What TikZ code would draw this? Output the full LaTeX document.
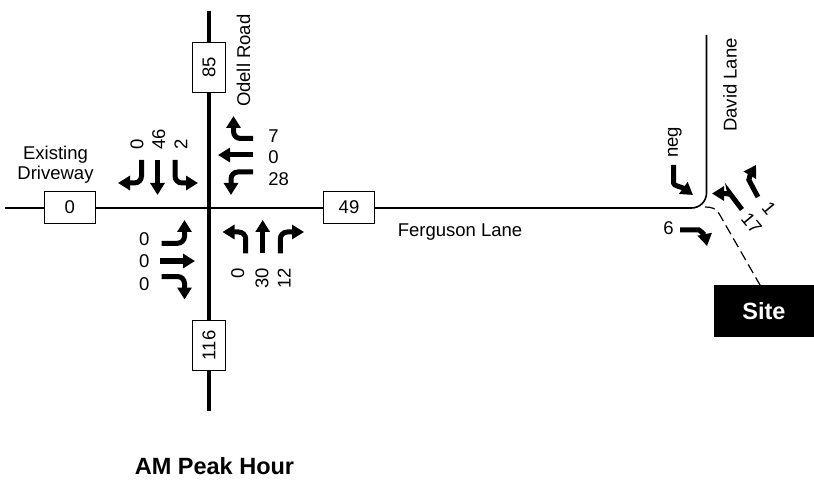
\documentclass[tikz,border=0pt]{standalone}
\usepackage{fontspec}
\setmainfont{Liberation Sans}
\usetikzlibrary{arrows.meta}
\begin{document}
\begin{tikzpicture}[x=1pt,y=-1pt,
  lbl/.style={font=\fontsize{18.5}{21}\selectfont, inner sep=0pt, outer sep=0pt},
  hbox/.style={draw, line width=0.9pt, fill=white, inner sep=0pt, minimum width=51pt, minimum height=32pt, font=\fontsize{18.5}{21}\selectfont},
  vbox/.style={hbox, minimum width=50.5pt, minimum height=33pt, rotate=90},
  mv/.style={line width=5pt, -{Triangle[length=12pt,width=14pt]}, rounded corners=7pt},
  road/.style={line width=1.6pt},
  mainroad/.style={line width=3.3pt},
  bold/.style={font=\bfseries\fontsize{23.5}{28}\selectfont, inner sep=0pt}
]
\useasboundingbox (0,0) rectangle (814,481);

% roads
\coordinate (ferW) at (5,208);
\coordinate (ferE) at (706.5,208);
\coordinate (davN) at (706.5,35);
\coordinate (odN) at (209,11);
\coordinate (odS) at (209,410.5);
\draw[road, rounded corners=15pt] (ferW) -- (ferE) -- (davN);
\draw[mainroad] (odN) -- (odS);

% site driveway
\node[fill=black, minimum width=100pt, minimum height=52pt, inner sep=0pt, text=white, bold] (site) at (764,311) {Site};
\coordinate (drvS) at (760,285);
\coordinate (drvN) at (705,207);
\draw[line width=1.2pt, dash pattern=on 10pt off 5pt] (drvN) .. controls (712,207) and (716,208.5) .. (719,213.5) -- (drvS);

% volume boxes
\node[hbox] (b0) at (69.7,207) {0};
\node[hbox] (b49) at (349,207.5) {49};
\node[vbox] (b85) at (209,67.7) {85};
\node[vbox] (b116) at (209,345.3) {116};

% road names
\node[lbl, anchor=base] (exist) at (55.5,159.5) {Existing};
\node[lbl, anchor=base] (drive) at (55.5,179.5) {Driveway};
\node[lbl, anchor=base] (fergl) at (460,236.7) {Ferguson Lane};
\node[lbl, rotate=90, anchor=base west] (odl) at (250,107) {Odell Road};
\node[lbl, rotate=90, anchor=base west] (dvl) at (736.5,131.7) {David Lane};
\node[bold, anchor=base] (amp) at (214.5,474.5) {AM Peak Hour};

% southbound volumes
\node[lbl, rotate=90, anchor=base west] (sbr) at (143.3,149.5) {0};
\node[lbl, rotate=90, anchor=base west] (sbt) at (165,149.5) {46};
\node[lbl, rotate=90, anchor=base west] (sbl) at (187.3,149.5) {2};
% westbound volumes
\node[lbl, anchor=base west] (wbr) at (268.3,142.3) {7};
\node[lbl, anchor=base west] (wbt) at (268.3,163.3) {0};
\node[lbl, anchor=base west] (wbl) at (268.3,186) {28};
% eastbound volumes
\node[lbl, anchor=base west] (ebl) at (139,246) {0};
\node[lbl, anchor=base west] (ebt) at (139,267.7) {0};
\node[lbl, anchor=base west] (ebr) at (139,290) {0};
% northbound volumes
\node[lbl, rotate=90, anchor=base east] (nbl) at (244,268.3) {0};
\node[lbl, rotate=90, anchor=base east] (nbt) at (268.3,268.3) {30};
\node[lbl, rotate=90, anchor=base east] (nbr) at (290.7,268.3) {12};
% David Lane volumes
\node[lbl, rotate=90, anchor=base west] (negl) at (677.8,158) {neg};
\node[lbl, anchor=base west] (six) at (663.3,235) {6};
\node[lbl, rotate=-50] (one) at (769,208.5) {1};
\node[lbl, rotate=-50] (svt) at (751.5,223.5) {17};

% southbound movements
\draw[mv] (141.5,160) -- (141.5,183) -- (118,183);
\draw[mv] (157.5,160) -- (157.5,195);
\draw[mv] (175,160) -- (175,183) -- (198,183);
% westbound movements
\draw[mv] (253,138.5) -- (233.5,138.5) -- (233.5,116);
\draw[mv] (253,155) -- (218,155);
\draw[mv] (253,172) -- (231,172) -- (231,195);
% eastbound movements
\draw[mv] (161.5,243.3) -- (184.5,243.3) -- (184.5,220);
\draw[mv] (160,261) -- (195,261);
\draw[mv] (161.5,276.5) -- (184.5,276.5) -- (184.5,299.5);
% northbound movements
\draw[mv] (245.7,253.5) -- (245.7,232) -- (222.5,232);
\draw[mv] (262.7,253.5) -- (262.7,220);
\draw[mv] (280.3,253.5) -- (280.3,232) -- (304,232);
% David Lane movements
\draw[mv] (673.5,165) -- (673.5,176) .. controls (673.5,186) and (682,187) .. (693,195);
\draw[mv] (680,230) -- (692,230) .. controls (700,230) and (705,236) .. (707,246);
\draw[mv] (742,209.5) -- (734,199) .. controls (731,195) and (728,193.5) .. (712,193.5);
\draw[mv] (758,197) -- (752,186) .. controls (749,180) and (750,175) .. (756,165);
\end{tikzpicture}
\end{document}
